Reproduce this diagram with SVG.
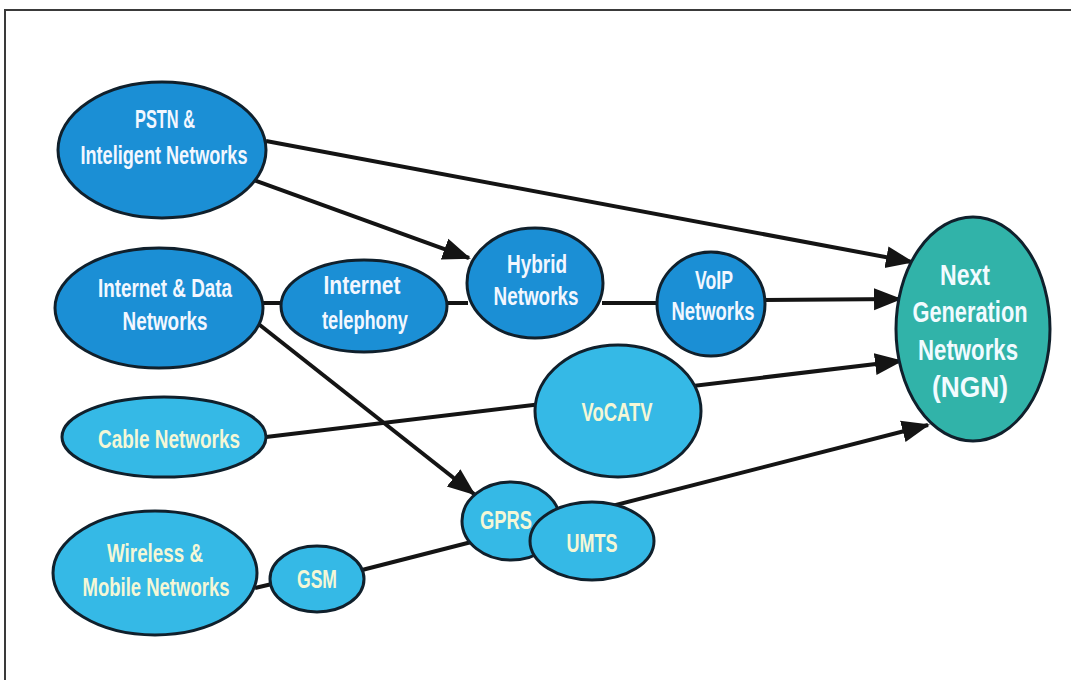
<svg xmlns="http://www.w3.org/2000/svg" width="1071" height="680" viewBox="0 0 1071 680">
  <defs>
    <marker id="arrow" markerUnits="userSpaceOnUse" markerWidth="28" markerHeight="24" refX="26" refY="12" orient="auto">
      <path d="M0,1 L28,12 L0,23 z" fill="#141414"/>
    </marker>
    <style>
      .frame { stroke: #3a3a3a; stroke-width: 2; fill: none; }
      .edge { stroke: #141414; stroke-width: 4; fill: none; }
      .arrow { marker-end: url(#arrow); }
      .node ellipse { stroke: #10202c; stroke-width: 3; }
      .dark ellipse { fill: #1b8fd5; }
      .light ellipse { fill: #35b9e6; }
      .teal ellipse { fill: #31b3a9; }
      text { font-family: "Liberation Sans", Arial, sans-serif; font-weight: bold; font-size: 25px; text-anchor: middle; dominant-baseline: central; }
      .dark text { fill: #f2f7ff; }
      .light text { fill: #f4f7d6; }
      .teal text { fill: #f2fbff; font-size: 29px; }
    </style>
  </defs>

  <rect width="1071" height="680" fill="#ffffff"/>
  <!-- page frame: top and left rules -->
  <path class="frame" d="M4,10 L1071,10 M5,10 L5,680"/>

  <!-- connectors -->
  <g id="connectors">
    <path class="edge arrow" d="M266,141 L912,262"/>
    <path class="edge arrow" d="M248,178 L469,258"/>
    <path class="edge" d="M262,303 L282,303"/>
    <path class="edge" d="M446,303 L468,303"/>
    <path class="edge" d="M602,303 L660,303"/>
    <path class="edge arrow" d="M764,300 L900,299"/>
    <path class="edge arrow" d="M256,322 L474,494"/>
    <path class="edge arrow" d="M266,437 L901,361"/>
    <path class="edge" d="M255,588 L272,584"/>
    <path class="edge arrow" d="M362,570 L928,425"/>
  </g>

  <!-- nodes -->
  <g id="pstn" class="node dark">
    <ellipse cx="162" cy="150" rx="104" ry="68"/>
    <text x="165" y="119" textLength="60" lengthAdjust="spacingAndGlyphs">PSTN &amp;</text>
    <text x="164" y="155" textLength="167" lengthAdjust="spacingAndGlyphs">Inteligent Networks</text>
  </g>
  <g id="internet-data" class="node dark">
    <ellipse cx="159" cy="308" rx="104" ry="60"/>
    <text x="165" y="288" textLength="134" lengthAdjust="spacingAndGlyphs">Internet &amp; Data</text>
    <text x="165" y="321" textLength="85" lengthAdjust="spacingAndGlyphs">Networks</text>
  </g>
  <g id="internet-telephony" class="node dark">
    <ellipse cx="364" cy="306" rx="83" ry="46"/>
    <text x="362" y="285" textLength="77" lengthAdjust="spacingAndGlyphs">Internet</text>
    <text x="365" y="320" textLength="86" lengthAdjust="spacingAndGlyphs">telephony</text>
  </g>
  <g id="hybrid" class="node dark">
    <ellipse cx="535" cy="283" rx="68" ry="55"/>
    <text x="537" y="264" textLength="60" lengthAdjust="spacingAndGlyphs">Hybrid</text>
    <text x="536" y="296" textLength="85" lengthAdjust="spacingAndGlyphs">Networks</text>
  </g>
  <g id="voip" class="node dark">
    <ellipse cx="711" cy="304" rx="54" ry="52"/>
    <text x="714" y="280" textLength="38" lengthAdjust="spacingAndGlyphs">VoIP</text>
    <text x="713" y="311" textLength="83" lengthAdjust="spacingAndGlyphs">Networks</text>
  </g>
  <g id="cable" class="node light">
    <ellipse cx="164" cy="437" rx="102" ry="40"/>
    <text x="169" y="439" textLength="142" lengthAdjust="spacingAndGlyphs">Cable Networks</text>
  </g>
  <g id="vocatv" class="node light">
    <ellipse cx="618" cy="411" rx="83" ry="66"/>
    <text x="617" y="412" textLength="71" lengthAdjust="spacingAndGlyphs">VoCATV</text>
  </g>
  <g id="wireless" class="node light">
    <ellipse cx="155" cy="573" rx="102" ry="62"/>
    <text x="155" y="553" textLength="96" lengthAdjust="spacingAndGlyphs">Wireless &amp;</text>
    <text x="156" y="587" textLength="147" lengthAdjust="spacingAndGlyphs">Mobile Networks</text>
  </g>
  <g id="gsm" class="node light">
    <ellipse cx="317" cy="579" rx="47" ry="33"/>
    <text x="317" y="579" textLength="40" lengthAdjust="spacingAndGlyphs">GSM</text>
  </g>
  <g id="gprs" class="node light">
    <ellipse cx="511" cy="521" rx="49" ry="39"/>
    <text x="506" y="520" textLength="52" lengthAdjust="spacingAndGlyphs">GPRS</text>
  </g>
  <g id="umts" class="node light">
    <ellipse cx="592" cy="541" rx="62" ry="39"/>
    <text x="592" y="543" textLength="51" lengthAdjust="spacingAndGlyphs">UMTS</text>
  </g>
  <g id="ngn" class="node teal">
    <ellipse cx="973" cy="329" rx="77" ry="112"/>
    <text x="965" y="275" textLength="50" lengthAdjust="spacingAndGlyphs">Next</text>
    <text x="970" y="312" textLength="115" lengthAdjust="spacingAndGlyphs">Generation</text>
    <text x="968" y="350" textLength="100" lengthAdjust="spacingAndGlyphs">Networks</text>
    <text x="970" y="387" textLength="76" lengthAdjust="spacingAndGlyphs">(NGN)</text>
  </g>
</svg>
